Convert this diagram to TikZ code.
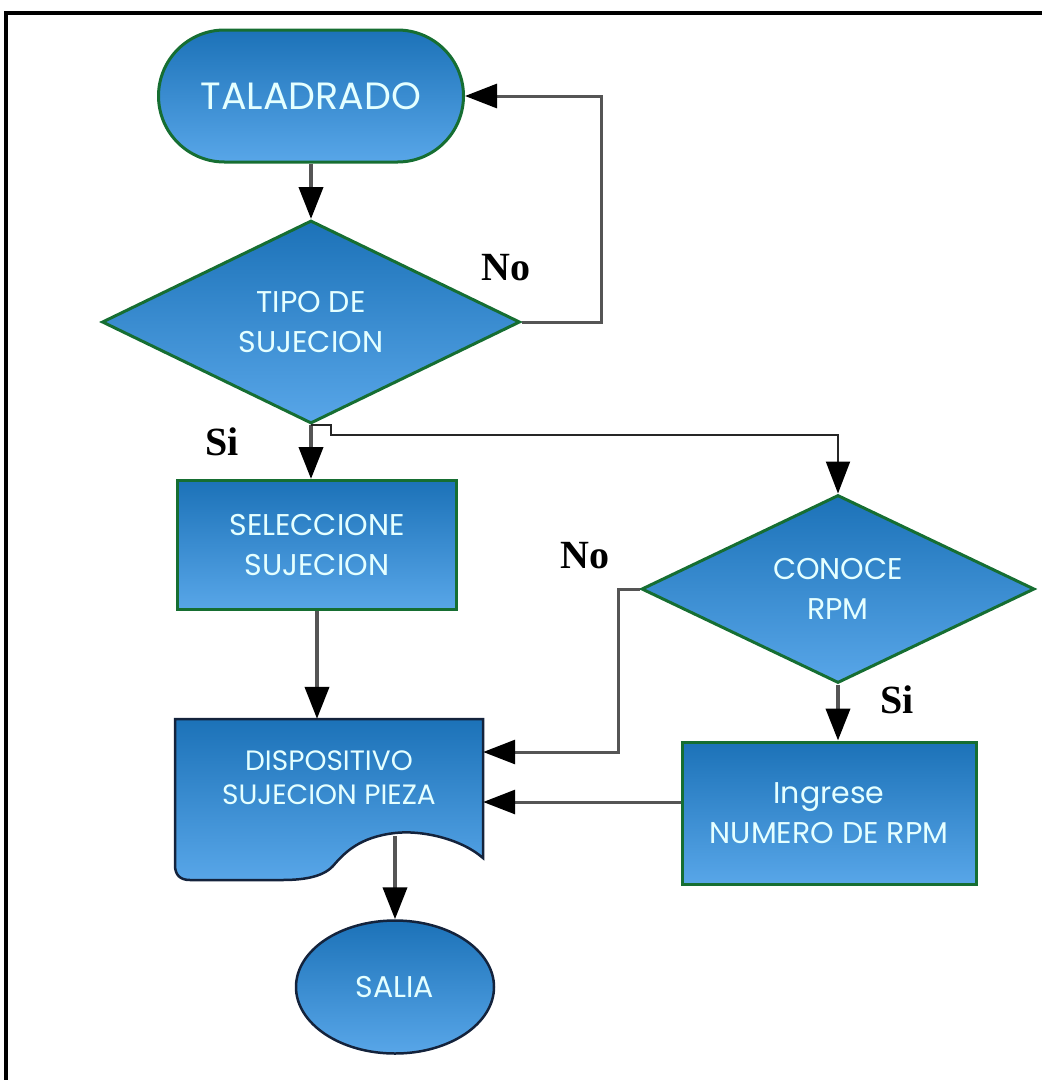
\documentclass[tikz,border=0pt]{standalone}
\usepackage{fontspec}
\setmainfont{Liberation Serif}
\newfontfamily\boxfont{Poppins}
\usetikzlibrary{arrows.meta,shapes.geometric}

\definecolor{boxgreen}{RGB}{22,110,50}
\definecolor{boxtop}{RGB}{28,114,184}
\definecolor{boxbot}{RGB}{88,166,232}
\definecolor{boxtext}{RGB}{228,255,255}
\definecolor{edgenavy}{RGB}{20,35,60}
\definecolor{flowgray}{RGB}{85,85,85}

\begin{document}
\begin{tikzpicture}[
        x=1pt, y=-1pt,
        >={Triangle[width=24pt,length=32pt,color=black]},
        boxtxt/.style={text=boxtext, align=center, inner sep=0pt, font=\boxfont\fontsize{30}{40}\selectfont},
        shaded/.style={boxtxt, top color=boxtop, bottom color=boxbot},
        terminal/.style={shaded, draw=boxgreen, line width=3pt, rectangle, rounded corners=66pt, minimum width=305pt, minimum height=132pt},
        decision/.style={shaded, draw=boxgreen, line width=3pt, diamond, aspect=2.06, minimum width=418pt, minimum height=203pt},
        process/.style={shaded, draw=boxgreen, line width=3pt, rectangle, minimum width=279pt, minimum height=129pt},
        endterm/.style={shaded, draw=edgenavy, line width=2.5pt, ellipse, minimum width=198pt, minimum height=133pt},
        docfill/.style={draw=edgenavy, line width=2.5pt, top color=boxtop, bottom color=boxbot},
        lab/.style={inner sep=0pt, font=\bfseries\fontsize{40}{40}\selectfont},
        flow/.style={->, line width=4pt, flowgray},
        loopline/.style={->, line width=3pt, flowgray},
        thinline/.style={->, line width=2pt, black!85}
    ]

    \useasboundingbox (0,0) rectangle (1042,1080);

    % page frame (cut off)
    \draw[line width=4pt] (6,1080) -- (6,12.5) -- (1042,12.5);

    % document shape behind its node
    \path[docfill] (175,719) -- (483,719) -- (483,858)
        .. controls (460,838) and (420,830) .. (395,833)
        .. controls (360,837) and (345,852) .. (333,866)
        .. controls (322,878) and (300,880) .. (282,880)
        -- (190,880) .. controls (180,880) and (175,875) .. (175,865) -- cycle;

    % nodes
    \node[terminal, font=\boxfont\fontsize{38}{40}\selectfont] (talad) at (311,96) {TALADRADO};
    \node[decision] (tipo) at (311,322) {TIPO DE\\SUJECION};
    \node[process] (selec) at (317,545) {SELECCIONE\\SUJECION};
    \node[decision, minimum width=393pt, minimum height=188pt] (conoce) at (838,589) {CONOCE\\RPM};
    \node[process, minimum width=294pt, minimum height=142pt] (ingrese) at (829,813) {Ingrese\\NUMERO DE RPM};
    \node[boxtxt, font=\boxfont\fontsize{28}{34}\selectfont, minimum width=308pt, minimum height=117pt] (disp) at (329,777.5) {DISPOSITIVO\\SUJECION PIEZA};
    \node[endterm] (salia) at (395,987) {SALIA};

    % labels
    \node[lab] (no1) at (506,268) {No};
    \node[lab] (si1) at (222,442) {Si};
    \node[lab] (no2) at (585,556) {No};
    \node[lab] (si2) at (897,700) {Si};

    % connectors
    \coordinate (dispA) at ([yshift=25.5pt]disp.east);
    \coordinate (ingA) at ([yshift=11pt]ingrese.west);

    \draw[flow] (talad.south) -- (tipo.north);
    \draw[loopline] (tipo.east) -- ++(80,0) |- (talad.east);
    \draw[flow] (tipo.south) -- (tipo.south |- selec.north);
    \draw[thinline] (tipo.south) -- ++(20,0) -- ++(0,10) -| (conoce.north);
    \draw[flow] (selec.south) -- (selec.south |- disp.north);
    \draw[loopline] (conoce.west) -- ++(-22,0) |- (dispA);
    \draw[loopline] (ingA) -- (ingA -| disp.east);
    \draw[flow] (conoce.south) -- (conoce.south |- ingrese.north);
    \draw[flow] (disp.south -| salia.north) -- (salia.north);

\end{tikzpicture}
\end{document}
